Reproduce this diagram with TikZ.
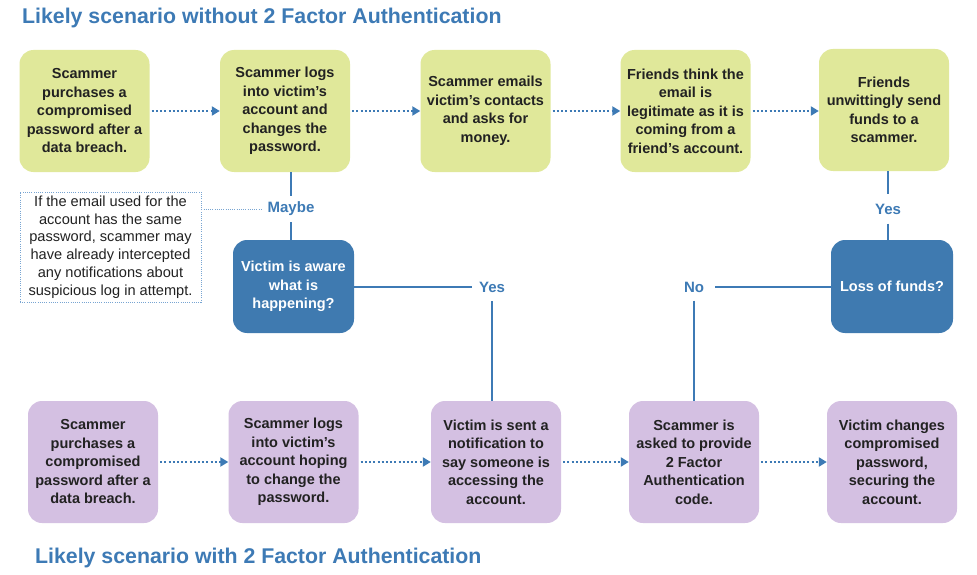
\documentclass[tikz,border=0pt]{standalone}
\usepackage{fontspec}
\setmainfont{Liberation Sans}
\usetikzlibrary{arrows.meta}
\definecolor{gfill}{RGB}{224,232,154}
\definecolor{pfill}{RGB}{212,192,226}
\definecolor{bfill}{RGB}{63,122,176}
\definecolor{lblue}{RGB}{61,122,181}
\definecolor{txt}{RGB}{34,34,34}
\definecolor{notec}{RGB}{120,165,210}
\begin{document}
\begin{tikzpicture}[x=1pt,y=-1pt,
 box/.style={rounded corners=14pt, minimum width=130pt, minimum height=122pt, align=center, inner sep=0pt, text=txt, font=\bfseries\fontsize{14.5}{18.5}\selectfont},
 gbox/.style={box, fill=gfill},
 pbox/.style={box, fill=pfill},
 qbox/.style={box, fill=bfill, text=white, minimum width=121pt, minimum height=93pt},
 flow/.style={lblue, line width=2.2pt, dash pattern=on 2pt off 2.2pt, -{Triangle[length=8pt,width=9pt]}, shorten <=2pt},
 link/.style={lblue, line width=2.5pt},
 notedot/.style={notec, line width=0.9pt, dash pattern=on 0.9pt off 1.3pt},
 lab/.style={text=lblue, font=\bfseries\fontsize{15}{18}\selectfont, inner sep=0pt},
 title/.style={text=lblue, font=\bfseries\fontsize{21.3}{25}\selectfont, anchor=base west, inner sep=0pt}
]
\fill[white] (0,0) rectangle (977,575);
\useasboundingbox (0,0) rectangle (977,575);

\node[title] (t1) at (22,24) {Likely scenario without 2 Factor Authentication};
\node[title] (t2) at (35,563) {Likely scenario with 2 Factor Authentication};

% top row
\node[gbox] (g1) at (84.5,111) {Scammer\\purchases a\\compromised\\password after a\\data breach.};
\node[gbox] (g2) at (285,111) {Scammer logs\\into victim’s\\account and\\changes the\\password.};
\node[gbox] (g3) at (485.5,111) {Scammer emails\\victim’s contacts\\and asks for\\money.};
\node[gbox] (g4) at (685.5,111) {Friends think the\\email is\\legitimate as it is\\coming from a\\friend’s account.};
\node[gbox] (g5) at (884,110) {Friends\\unwittingly send\\funds to a\\scammer.};

% bottom row
\node[pbox] (p1) at (93,462) {Scammer\\purchases a\\compromised\\password after a\\data breach.};
\node[pbox] (p2) at (293.5,462) {Scammer logs\\into victim’s\\account hoping\\to change the\\password.};
\node[pbox] (p3) at (496,462) {Victim is sent a\\notification to\\say someone is\\accessing the\\account.};
\node[pbox] (p4) at (694,462) {Scammer is\\asked to provide\\2 Factor\\Authentication\\code.};
\node[pbox] (p5) at (892,462) {Victim changes\\compromised\\password,\\securing the\\account.};

% question boxes
\node[qbox] (aware) at (293.5,286.5) {Victim is aware\\what is\\happening?};
\node[qbox, minimum width=122pt] (loss) at (892,286.5) {Loss of funds?};

% note
\node[draw=notec, dash pattern=on 0.9pt off 1.3pt, line width=0.9pt, minimum width=181pt, minimum height=110pt, align=center, inner sep=0pt, text=txt, font=\fontsize{14.6}{17.7}\selectfont] (note) at (110.5,247) {If the email used for the\\account has the same\\password, scammer may\\have already intercepted\\any notifications about\\suspicious log in attempt.};

% labels
\node[lab, minimum width=58pt, minimum height=26pt] (maybe) at (291,209) {Maybe};
\node[lab, minimum width=40pt, minimum height=28pt] (yesL) at (492,287) {Yes};
\node[lab, minimum width=42pt, minimum height=27pt] (no) at (694,287) {No};
\node[lab, minimum width=40pt, minimum height=29pt] (yesR) at (888,209) {Yes};

% flow arrows
\draw[flow] (g1) -- (g2);
\draw[flow] (g2) -- (g3);
\draw[flow] (g3) -- (g4);
\draw[flow] (g4) -- (g5.west |- g4);
\draw[flow] (p1) -- (p2);
\draw[flow] (p2) -- (p3);
\draw[flow] (p3) -- (p4);
\draw[flow] (p4) -- (p5);

% decision links
\draw[link] (g2.south -| maybe) -- (maybe.north);
\draw[link] (maybe.south) -- (aware.north -| maybe);
\draw[link] (aware.east |- yesL) -- (yesL.west);
\draw[link] (yesL.south) -- (p3.north -| yesL);
\draw[link] (loss.west |- no) -- (no.east);
\draw[link] (no.south) -- (p4.north -| no);
\draw[link] (g5.south -| yesR) -- (yesR.north);
\draw[link] (yesR.south) -- (loss.north -| yesR);
\draw[notedot] (note.east |- maybe) -- (maybe.west);
\end{tikzpicture}
\end{document}
